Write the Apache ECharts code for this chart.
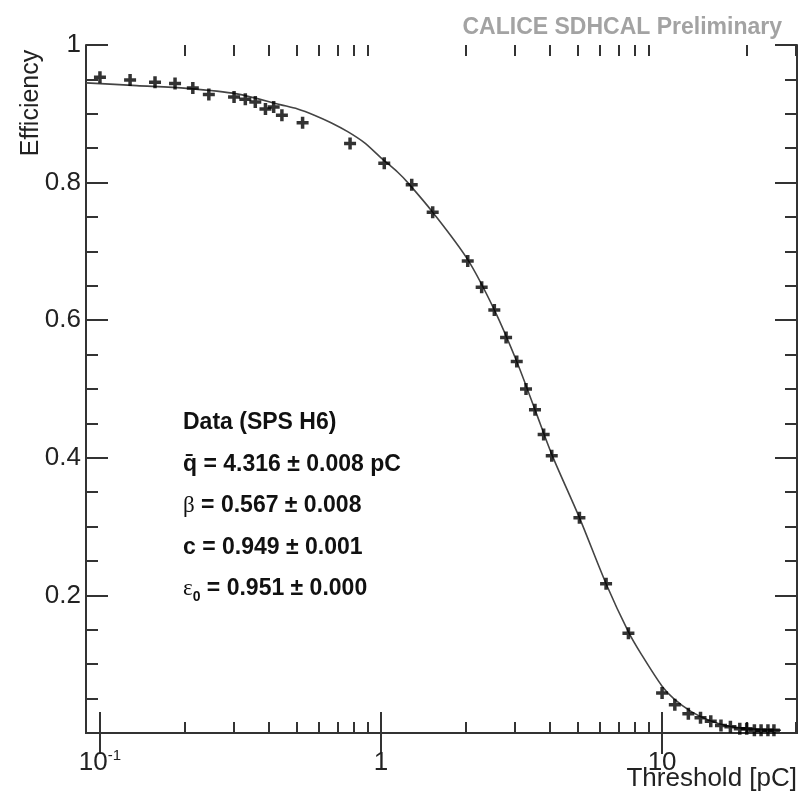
<!DOCTYPE html>
<html>
<head>
<meta charset="utf-8">
<script src="https://cdn.jsdelivr.net/npm/echarts@6/dist/echarts.min.js"></script>
<style>
html,body{margin:0;padding:0;background:#fff;}
#chart{width:805px;height:795px;}
</style>
</head>
<body>
<div id="chart"></div>
<script>
// Data points (threshold in pC, efficiency)
const thresholds = [0.1, 0.128, 0.157, 0.185, 0.214, 0.244, 0.30, 0.329, 0.357, 0.388, 0.415, 0.444, 0.526, 0.776, 1.027, 1.286, 1.527, 2.035, 2.281, 2.53, 2.786, 3.04, 3.28, 3.53, 3.79, 4.05, 5.08, 6.32, 7.59, 10.0, 11.1, 12.4, 13.7, 14.9, 16.2, 17.5, 18.9, 20.0, 21.3, 22.5, 23.8, 25.0];
const efficiency = [0.953, 0.949, 0.946, 0.944, 0.9375, 0.928, 0.9245, 0.921, 0.917, 0.907, 0.910, 0.898, 0.887, 0.857, 0.828, 0.797, 0.757, 0.686, 0.648, 0.615, 0.575, 0.540, 0.500, 0.470, 0.434, 0.403, 0.313, 0.217, 0.145, 0.058, 0.041, 0.028, 0.022, 0.017, 0.011, 0.009, 0.006, 0.006, 0.004, 0.004, 0.004, 0.004];

// Fit curve
const fitX = [0.0892, 0.135, 0.204, 0.307, 0.441, 0.505, 0.579, 0.664, 0.761, 0.872, 1.0, 1.147, 1.245, 1.527, 2.035, 2.53, 3.04, 3.53, 4.05, 5.08, 6.32, 7.59, 8.42, 10.0, 11.0, 12.7, 14.6, 17.2, 20.7, 26.5];
const fitY = [0.945, 0.941, 0.937, 0.929, 0.913, 0.907, 0.898, 0.887, 0.874, 0.858, 0.836, 0.815, 0.800, 0.757, 0.688, 0.615, 0.540, 0.470, 0.405, 0.313, 0.217, 0.147, 0.115, 0.068, 0.050, 0.031, 0.019, 0.010, 0.006, 0.004];

// Axis ticks
const xMajor = [0.1, 1, 10];
const xMinor = [0.2, 0.3, 0.4, 0.5, 0.6, 0.7, 0.8, 0.9, 2, 3, 4, 5, 6, 7, 8, 9, 20, 30];
const xMin = 0.0892, xMax = 30.2;

const textLines = ['Data (SPS H6)', 'q\u0304 = 4.316 \u00b1 0.008 pC', '\u03b2 = 0.567 \u00b1 0.008', 'c = 0.949 \u00b1 0.001', '\u03b5\u2080 = 0.951 \u00b1 0.000'];

const FONT = '"Liberation Sans", Arial, Helvetica, sans-serif';
const AX = '#333';

function xAxisDef(pos, ticks, len, showLine, showLabel) {
  return {
    type: 'log', logBase: 10, position: pos, min: xMin, max: xMax,
    axisLine: {show: showLine, lineStyle: {color: AX, width: 2}},
    axisTick: {show: true, inside: true, length: len, customValues: ticks, lineStyle: {color: AX, width: 2}},
    axisLabel: showLabel ? {
      show: true, customValues: xMajor, margin: 15, color: '#222', fontFamily: FONT, fontSize: 26,
      formatter: function (v) {
        if (Math.abs(v - 0.1) < 1e-9) return '{b|10}{s|-1}';
        if (Math.abs(v - 1) < 1e-9) return '{b|1}';
        if (Math.abs(v - 10) < 1e-9) return '{b|10}';
        return '';
      },
      rich: {
        b: {fontSize: 26, fontFamily: FONT, color: '#222', lineHeight: 30},
        s: {fontSize: 15, fontFamily: FONT, color: '#222', verticalAlign: 'top', lineHeight: 16}
      }
    } : {show: false},
    splitLine: {show: false}
  };
}

function yAxisDef(pos, showLabel) {
  return {
    type: 'value', position: pos, min: 0, max: 1, interval: 0.2,
    axisLine: {show: true, lineStyle: {color: AX, width: 2}},
    axisTick: {show: true, inside: true, length: 22, lineStyle: {color: AX, width: 2}},
    minorTick: {show: true, splitNumber: 4, length: 12, lineStyle: {color: AX, width: 2}},
    axisLabel: showLabel ? {
      show: true, margin: 5, color: '#222', fontFamily: FONT, fontSize: 26,
      formatter: function (v) { if (v === 0) return ''; if (v === 1) return '1'; return v.toFixed(1); }
    } : {show: false},
    splitLine: {show: false}
  };
}

const chart = echarts.init(document.getElementById('chart'), null, {renderer: 'canvas'});

const bold = 'bold 23px ' + FONT;
const lineY = [423, 465, 506, 548, 589];
const annot = [
  {type: 'text', x: 183, y: lineY[0], style: {text: textLines[0], font: bold, fill: '#111', textVerticalAlign: 'middle'}},
  {type: 'text', x: 183, y: lineY[1], style: {text: textLines[1], font: bold, fill: '#111', textVerticalAlign: 'middle'}},
  {type: 'text', x: 183, y: lineY[2], style: {
    text: '{g|\u03b2}{t| = 0.567 \u00b1 0.008}', textVerticalAlign: 'middle',
    rich: {g: {font: '23px "Liberation Serif", serif', fill: '#111'}, t: {font: bold, fill: '#111'}}}},
  {type: 'text', x: 183, y: lineY[3], style: {text: textLines[3], font: bold, fill: '#111', textVerticalAlign: 'middle'}},
  {type: 'text', x: 183, y: lineY[4], style: {
    text: '{g|\u03b5}{u|0}{t| = 0.951 \u00b1 0.000}', textVerticalAlign: 'middle',
    rich: {g: {font: '23px "Liberation Serif", serif', fill: '#111', lineHeight: 30},
           u: {font: 'bold 14px ' + FONT, fill: '#111', verticalAlign: 'bottom', lineHeight: 14},
           t: {font: bold, fill: '#111', lineHeight: 30}}}}
];

chart.setOption({
  animation: false,
  backgroundColor: '#fff',
  grid: {left: 86, top: 45, right: 8, bottom: 62, containLabel: false},
  xAxis: [
    xAxisDef('bottom', xMajor, 21, true, true),
    xAxisDef('top', xMajor, 21, true, false),
    xAxisDef('bottom', xMinor, 11, false, false),
    xAxisDef('top', xMinor, 11, false, false)
  ],
  yAxis: [yAxisDef('left', true), yAxisDef('right', false)],
  series: [
    {
      type: 'line', xAxisIndex: 0, yAxisIndex: 0,
      data: fitX.map((x, i) => [x, fitY[i]]),
      smooth: 0.3, showSymbol: false, symbol: 'none',
      lineStyle: {color: '#444', width: 1.6}, z: 2
    },
    {
      type: 'scatter', xAxisIndex: 0, yAxisIndex: 0,
      data: thresholds.map((x, i) => [x, efficiency[i]]),
      symbol: 'path://M0,4.25h4.25v-4.25h3.5v4.25h4.25v3.5h-4.25v4.25h-3.5v-4.25h-4.25z', symbolSize: 12,
      itemStyle: {color: '#000'}, z: 3
    }
  ],
  graphic: [
    {type: 'text', x: 782, y: 28, style: {text: 'CALICE SDHCAL Preliminary', font: 'bold 23px ' + FONT, fill: '#a3a3a3', textAlign: 'right', textVerticalAlign: 'middle'}},
    {type: 'text', x: 797, y: 779, style: {text: 'Threshold [pC]', font: '26px ' + FONT, fill: '#222', textAlign: 'right', textVerticalAlign: 'middle'}},
    {type: 'text', x: 31, y: 103, rotation: Math.PI / 2, style: {text: 'Efficiency', font: '25px ' + FONT, fill: '#222', textAlign: 'center', textVerticalAlign: 'middle'}}
  ].concat(annot)
});
</script>
</body>
</html>
